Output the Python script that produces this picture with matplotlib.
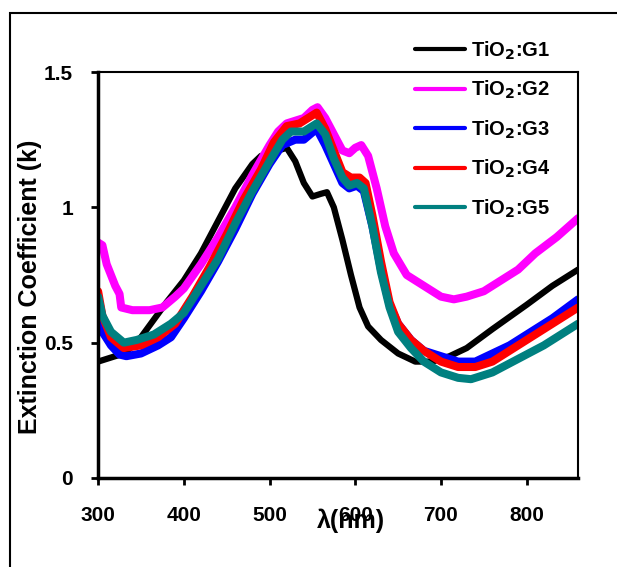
import numpy as np
import matplotlib.pyplot as plt
from matplotlib.patches import Rectangle

plt.rcParams['font.family'] = ['Liberation Sans', 'DejaVu Sans']
plt.rcParams['font.weight'] = 'bold'

# wavelength (nm) / extinction coefficient
wl_g1 = [300, 320, 331, 350, 380, 400, 420, 440, 460, 480, 490, 500, 510, 520, 530, 540, 550, 560, 567,
         575, 585, 595, 605, 615, 630, 650, 670, 690, 710, 730, 760, 800, 830, 860]
k_g1 = [0.43, 0.45, 0.46, 0.52, 0.65, 0.73, 0.83, 0.95, 1.07, 1.16, 1.19, 1.19, 1.21, 1.22, 1.17, 1.09, 1.04, 1.05, 1.056,
        1.0, 0.88, 0.75, 0.63, 0.56, 0.51, 0.46, 0.43, 0.43, 0.45, 0.48, 0.55, 0.64, 0.71, 0.77]

wl_g2 = [300, 305, 310, 320, 325, 327, 340, 360, 375, 390, 400, 420, 440, 460, 480, 500, 510, 520, 530, 540,
         550, 556, 565, 575, 585, 593, 600, 607, 615, 625, 635, 645, 660, 680, 700, 715, 730, 750, 770, 790,
         810, 835, 860]
k_g2 = [0.87, 0.86, 0.79, 0.71, 0.68, 0.63, 0.62, 0.62, 0.63, 0.67, 0.70, 0.79, 0.89, 1.0, 1.12, 1.23, 1.28, 1.31, 1.32, 1.33,
        1.36, 1.37, 1.33, 1.27, 1.21, 1.20, 1.22, 1.23, 1.19, 1.07, 0.93, 0.83, 0.75, 0.71, 0.67, 0.66, 0.67, 0.69, 0.73, 0.77,
        0.83, 0.89, 0.96]

wl_g3 = [300, 305, 315, 325, 333, 350, 370, 385, 400, 420, 440, 460, 480, 500, 515, 530, 540, 555, 565, 575,
         585, 593, 602, 610, 620, 630, 640, 650, 665, 680, 700, 720, 740, 760, 780, 800, 830, 860]
k_g3 = [0.59, 0.54, 0.49, 0.456, 0.45, 0.46, 0.49, 0.52, 0.59, 0.69, 0.80, 0.92, 1.05, 1.16, 1.23, 1.25, 1.25, 1.29, 1.23, 1.16,
        1.09, 1.07, 1.08, 1.06, 0.93, 0.77, 0.64, 0.57, 0.51, 0.47, 0.45, 0.43, 0.43, 0.46, 0.49, 0.53, 0.59, 0.66]

wl_g4 = [300, 305, 315, 330, 350, 370, 390, 410, 430, 450, 470, 490, 505, 520, 535, 545, 555, 565, 575, 585,
         595, 605, 612, 620, 630, 640, 650, 665, 680, 700, 720, 740, 760, 780, 800, 830, 860]
k_g4 = [0.69, 0.60, 0.52, 0.48, 0.49, 0.52, 0.57, 0.67, 0.78, 0.90, 1.03, 1.14, 1.24, 1.30, 1.31, 1.33, 1.35, 1.29, 1.21, 1.13,
        1.11, 1.11, 1.09, 0.97, 0.80, 0.65, 0.57, 0.51, 0.47, 0.43, 0.41, 0.41, 0.43, 0.47, 0.51, 0.57, 0.63]

wl_g5 = [300, 305, 315, 330, 345, 365, 385, 400, 420, 440, 460, 480, 500, 515, 525, 540, 555, 565, 575, 585,
         593, 602, 610, 620, 630, 640, 650, 665, 680, 700, 720, 735, 760, 790, 820, 860]
k_g5 = [0.67, 0.60, 0.54, 0.50, 0.51, 0.53, 0.57, 0.61, 0.71, 0.81, 0.94, 1.06, 1.17, 1.25, 1.28, 1.28, 1.31, 1.27, 1.18, 1.11,
        1.08, 1.09, 1.07, 0.93, 0.76, 0.63, 0.54, 0.48, 0.43, 0.39, 0.37, 0.365, 0.39, 0.44, 0.49, 0.57]

labels = ['TiO$_\\mathbf{2}$:G1', 'TiO$_\\mathbf{2}$:G2', 'TiO$_\\mathbf{2}$:G3',
          'TiO$_\\mathbf{2}$:G4', 'TiO$_\\mathbf{2}$:G5']
colors = ['black', '#ff00ff', '#0000ff', '#ff0000', '#008080']
widths = [4.5, 5.8, 5.8, 5.8, 5.8]

fig = plt.figure(figsize=(6.17, 5.67), dpi=100)
ax = fig.add_axes([0.159, 0.157, 0.778, 0.716])

series = [(wl_g1, k_g1), (wl_g2, k_g2), (wl_g3, k_g3), (wl_g4, k_g4), (wl_g5, k_g5)]
for (x, y), lab, c, w in zip(series, labels, colors, widths):
    ax.plot(x, y, color=c, lw=w, label=lab, solid_capstyle='round', solid_joinstyle='round')

ax.set_xlim(300, 860)
ax.set_ylim(0, 1.5)
ax.set_xticks([300, 400, 500, 600, 700, 800])
ax.set_yticks([0, 0.5, 1, 1.5])
ax.set_yticklabels(['0', '0.5', '1', '1.5'])
ax.tick_params(direction='out', length=5, width=2, labelsize=15)
ax.tick_params(axis='x', pad=15)
ax.tick_params(axis='y', pad=13)
for s in ['left', 'bottom']:
    ax.spines[s].set_linewidth(2.5)
for s in ['top', 'right']:
    ax.spines[s].set_linewidth(1.5)

ax.set_xlabel('λ(nm)', fontsize=18, fontweight='bold')
ax.xaxis.set_label_coords(0.527, -0.105, transform=ax.transAxes)
ax.xaxis.label.set_va('center')
ax.set_ylabel('Extinction Coefficient (k)', fontsize=18, fontweight='bold')
ax.yaxis.set_label_coords(-0.142, 0.47, transform=ax.transAxes)
ax.yaxis.label.set_va('center')

leg = ax.legend(loc='upper left', bbox_to_anchor=(0.66, 1.08), frameon=False, fontsize=14.5,
                handlelength=2.5, labelspacing=0.85, handletextpad=0.3, borderaxespad=0,
                borderpad=0)
for line in leg.get_lines():
    line.set_linewidth(3)

# outer frame around the whole picture (runs off the right and bottom edges)
fig.patches.append(Rectangle((10 / 617, -0.05), 1.0, 1.05 - 13 / 567,
                             transform=fig.transFigure, fill=False, lw=1.5, ec='black'))

fig.savefig('out.png', dpi=100)
